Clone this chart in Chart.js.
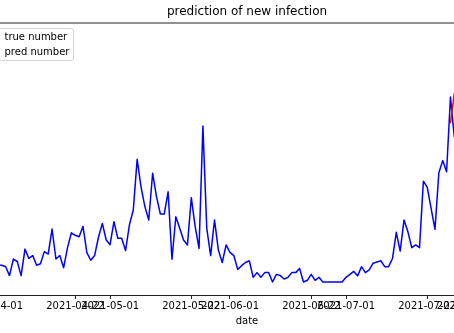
<!DOCTYPE html>
<html>
<head>
<meta charset="utf-8">
<script src="https://cdn.jsdelivr.net/npm/chart.js@4"></script>
<style>
  html, body { margin: 0; padding: 0; background: #fff; }
  body { width: 454px; height: 333px; overflow: hidden; position: relative; font-family: "DejaVu Sans", sans-serif; }
  #wrap { position: absolute; left: -90px; top: 0; width: 674px; height: 333px; }
  #legend {
    position: absolute; left: -30px; top: 28px; width: 104px; box-sizing: border-box;
    border: 1px solid #d6d6d6; border-radius: 3px; background: rgba(255,255,255,0.8);
    padding: 0 0 1px 5.5px; font-size: 10px; line-height: 15px; color: #000; white-space: nowrap;
  }
  #legend .h { display: inline-block; width: 20px; height: 1.5px; margin-right: 8px; vertical-align: middle; }
</style>
</head>
<body>
<div id="wrap"><canvas id="chart"></canvas></div>
<div id="legend">
  <div><span class="h" style="background:#0000ff"></span>true number</div>
  <div><span class="h" style="background:#ff0000"></span>pred number</div>
</div>
<script>
// daily values, first one is startDate
const startDate = "2021-04-01";
const trueValues = [
  7.3, 6.9, 6.8, 6.2, 2.6, 9.3, 8.3, 2.6, 13.3, 9.5,
  10.7, 6.8, 7.4, 12.3, 11.3, 21.4, 9.3, 10.7, 5.8, 13.9,
  19.9, 18.9, 18.3, 22.5, 11.9, 8.8, 10.7, 18.1, 23.7, 17.0,
  15.1, 24.4, 17.7, 17.7, 12.7, 23.1, 29.1, 49.6, 38.5, 30.5,
  25.1, 44.0, 34.5, 27.5, 27.5, 36.5, 9.2, 26.4, 21.7, 17.0,
  15.0, 34.1, 22.4, 13.6, 63.1, 21.7, 10.7, 25.1, 12.9, 7.9,
  15.0, 12.0, 10.7, 5.1, 6.6, 7.9, 8.6, 1.9, 3.8, 1.9,
  3.8, 3.8, 0, 3.1, 2.6, 1.2, 1.9, 3.8, 3.8, 5.5,
  0, 0.7, 3.1, 0.7, 1.9, 0, 0, 0, 0, 0,
  0, 1.9, 3.1, 4.3, 2.5, 6.2, 3.8, 4.9, 7.6, 8.1,
  8.6, 6.2, 6.2, 9.4, 20.1, 12.5, 25.1, 20.3, 13.9, 15.0,
  13.9, 40.8, 38.3, 29.8, 21.3, 44.2, 49.1, 44.6, 74.8, 58.6
];
const predStartDate = "2021-07-28";
const predValues = [64.2, 76.4];
const tickDates = ["2021-04-01", "2021-04-22", "2021-05-01", "2021-05-22", "2021-06-01",
                   "2021-06-22", "2021-07-01", "2021-07-22", "2021-08-01"];

const DAY = 86400000;
const t0 = Date.parse(startDate);
const dayOf = s => (Date.parse(s) - t0) / DAY;
const dateOf = d => new Date(t0 + d * DAY).toISOString().slice(0, 10);

const truePoints = trueValues.map((v, i) => ({ x: i, y: v }));
const predOffset = dayOf(predStartDate);
const predPoints = predValues.map((v, i) => ({ x: predOffset + i, y: v }));
const tickDays = tickDates.map(dayOf);

// top spine (matplotlib box)
const topSpine = {
  id: "topSpine",
  afterDraw(chart) {
    const { ctx, chartArea } = chart;
    ctx.save();
    ctx.strokeStyle = "#222";
    ctx.lineWidth = 1;
    ctx.beginPath();
    ctx.moveTo(chartArea.left, chartArea.top);
    ctx.lineTo(chartArea.right, chartArea.top);
    ctx.stroke();
    ctx.restore();
  }
};

Chart.defaults.font.family = "'DejaVu Sans', sans-serif";
Chart.defaults.color = "#000";

new Chart(document.getElementById("chart"), {
  type: "line",
  data: {
    datasets: [
      {
        label: "true number",
        data: truePoints,
        borderColor: "#0000ff",
        borderWidth: 1.5,
        borderJoinStyle: "round",
        pointRadius: 0,
        tension: 0,
        order: 1
      },
      {
        label: "pred number",
        data: predPoints,
        borderColor: "#ff0000",
        borderWidth: 1.5,
        borderJoinStyle: "round",
        pointRadius: 0,
        tension: 0,
        order: 0
      }
    ]
  },
  options: {
    responsive: true,
    maintainAspectRatio: false,
    animation: false,
    layout: { padding: { left: 50, right: 50, top: 0, bottom: 0 } },
    plugins: {
      legend: { display: false },
      tooltip: { enabled: false },
      title: {
        display: true,
        text: "prediction of new infection",
        font: { size: 12, weight: "normal" },
        padding: { top: 4.6, bottom: 4 }
      }
    },
    scales: {
      x: {
        type: "linear",
        min: -8.8,
        max: 139.6,
        afterBuildTicks: axis => { axis.ticks = tickDays.map(v => ({ value: v })); },
        ticks: {
          autoSkip: false,
          maxRotation: 0,
          minRotation: 0,
          padding: 1.5,
          font: { size: 10 },
          callback: v => dateOf(v)
        },
        grid: { drawOnChartArea: false, tickLength: 4, tickColor: "#222", tickWidth: 1 },
        border: { display: true, color: "#222", width: 1 },
        title: { display: true, text: "date", font: { size: 10 }, padding: { top: 1, bottom: 6 } }
      },
      y: {
        display: false,
        min: -5.25,
        max: 104.75
      }
    }
  },
  plugins: [topSpine]
});
</script>
</body>
</html>
